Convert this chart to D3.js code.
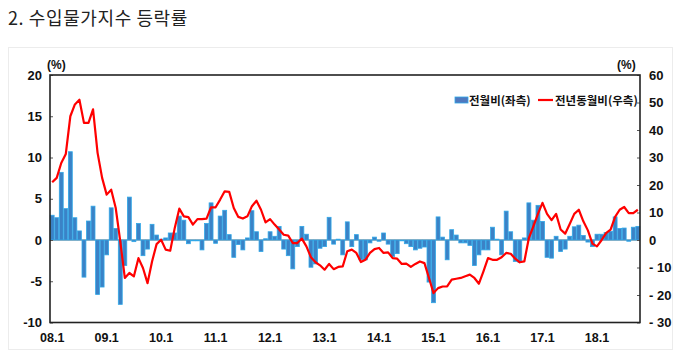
<!DOCTYPE html>
<html><head><meta charset="utf-8">
<script src="https://cdn.jsdelivr.net/npm/d3@7"></script>
<style>
html,body{margin:0;padding:0;background:#fff;}
svg{display:block;}
</style>
</head><body>
<svg id="c" width="679" height="357"></svg>
<script>
const title = "2. 수입물가지수 등락률";
const legendLabels = ["전월비(좌측)", "전년동월비(우측)"];
const xTickLabels = ["08.1","09.1","10.1","11.1","12.1","13.1","14.1","15.1","16.1","17.1","18.1"];
const leftTicks = [-10,-5,0,5,10,15,20];
const rightTicks = [-30,-20,-10,0,10,20,30,40,50,60];
// 전월비 (left axis), monthly 2008.1 - 2018.10
const mom = [
 3.0, 2.7, 8.2, 3.8, 10.7, 2.7, 1.1, -4.5, 2.3, 4.1, -6.6, -5.7,
 -1.8, 3.9, 1.4, -7.8, -3.1, 5.2, -0.2, 2.0, -1.9, -1.1, 1.9, 0.6,
 0.1, 0.25, 0.85, 0.85, 2.9, 2.4, -0.45, -0.1, -0.1, -1.2, 2.0, 4.5,
 -0.4, 2.9, 3.6, 0.65, -2.1, -0.55, -1.2, 0.25, 3.55, 1.0, -1.4, 0.15,
 1.0, 0.45, 1.65, -1.1, -1.9, -3.5, -0.8, 1.65, 0.7, -3.3, -2.9, -1.0,
 -0.8, 2.75, -0.5, 0.1, -1.8, 2.2, -0.8, 0.65, -2.4, -2.4, -0.35, 0.35,
 -0.15, 0.85, -0.5, -2.0, -1.65, -0.1, -0.45, -0.8, -1.2, -1.0, -0.85, -5.1,
 -7.6, 2.8, 0.35, -2.4, 1.25, 0.6, -0.35, -0.35, -0.65, -3.1, -1.8, -1.2,
 -1.2, 1.55, 0.1, -1.8, 3.5, 1.0, -2.6, -2.7, 0.25, 4.5, 2.4, 4.2,
 2.25, -2.1, -2.2, 0.45, -1.4, -1.1, 0.45, 1.6, 1.8, 0.55, -0.25, -0.8,
 0.7, 0.7, 0.9, 1.05, 2.8, 1.4, 1.45, -0.15, 1.55, 1.65
];
// 전년동월비 (right axis)
const yoy = [
 21.0, 22.6, 28.0, 31.3, 45.0, 49.3, 51.0, 42.6, 42.6, 47.5, 31.7, 22.6,
 16.5, 18.3, 11.6, -0.5, -13.8, -12.0, -13.2, -6.6, -10.2, -15.7, -7.8, -1.5,
 0.1, -3.5, -3.9, 4.4, 11.4, 8.6, 8.3, 5.6, 7.6, 7.6, 7.8, 11.9,
 11.9, 14.7, 17.7, 17.5, 11.65, 8.4, 7.8, 8.6, 12.3, 14.3, 11.0, 6.4,
 7.6, 5.6, 3.8, 1.9, 1.6, -1.1, -1.1, 0.5, -2.3, -6.3, -8.1, -9.2,
 -10.8, -8.7, -10.6, -9.8, -9.6, -4.1, -3.5, -4.7, -8.0, -7.2, -4.7, -3.3,
 -2.9, -4.7, -4.5, -6.6, -6.8, -8.7, -8.6, -9.8, -8.7, -7.8, -8.4, -13.8,
 -19.3, -17.5, -16.9, -16.9, -14.4, -14.1, -13.8, -13.2, -12.6, -13.8, -15.9, -11.4,
 -6.6, -7.2, -7.2, -6.3, -4.7, -5.0, -6.8, -8.1, -7.8, 0.7, 5.0, 9.5,
 13.5, 9.5, 7.2, 9.5, 3.8, 2.3, 5.8, 9.5, 11.0, 6.8, 3.5, -1.3,
 -2.3, -0.1, 2.5, 3.8, 8.4, 11.0, 12.0, 9.8, 9.8, 11.0
];

const months = mom.map((_, i) => i);
const svg = d3.select("#c");
const L = 50, R = 640, T = 75, B = 322.5;

const x = d3.scaleBand().domain(months).range([L, R]).paddingInner(0.14).paddingOuter(0.05);
const yL = d3.scaleLinear().domain([-10, 20]).range([B, T]);
const yR = d3.scaleLinear().domain([-30, 60]).range([B, T]);

const numFont = "'Liberation Sans Narrow','Liberation Sans',Arial,sans-serif";
const krFont = "'Noto Sans CJK KR','Noto Sans',sans-serif";

// faint outer box
svg.append("rect").attr("x", 8.5).attr("y", 47.5).attr("width", 664).attr("height", 302)
  .attr("fill", "none").attr("stroke", "#ececec").attr("stroke-width", 1);

// title
svg.append("text").attr("x", 8).attr("y", 25).text(title)
  .attr("font-family", krFont).attr("font-size", 18).attr("letter-spacing", 0.6).attr("fill", "#222");

// zero line
svg.append("line").attr("x1", L).attr("x2", R).attr("y1", yL(0)).attr("y2", yL(0))
  .attr("stroke", "#a0a0a0").attr("stroke-width", 1.5);

// bars
svg.append("g").selectAll("rect").data(months).join("rect")
  .attr("x", d => x(d))
  .attr("width", x.bandwidth())
  .attr("y", d => Math.min(yL(mom[d]), yL(0)))
  .attr("height", d => Math.abs(yL(mom[d]) - yL(0)))
  .attr("fill", "#3b82c6").attr("stroke", "#30a8e8").attr("stroke-width", 0.8);

// line
const line = d3.line().x(d => x(d) + x.bandwidth() / 2).y(d => yR(yoy[d]));
svg.append("path").datum(months).attr("d", line)
  .attr("fill", "none").attr("stroke", "#ff0000").attr("stroke-width", 2.2).attr("stroke-linejoin", "round");

// left axis
const gl = svg.append("g").attr("transform", `translate(${L},0)`)
  .call(d3.axisLeft(yL).tickValues(leftTicks).tickSize(-3).tickPadding(8).tickFormat(d => d < 0 ? "-" + Math.abs(d) : d));
gl.select(".domain").remove();
gl.selectAll("text").attr("font-family", numFont).attr("font-size", 13).attr("font-weight", "bold").attr("fill", "#111");
gl.selectAll("line").attr("stroke", "#555");

// right axis
const gr = svg.append("g").attr("transform", `translate(${R},0)`)
  .call(d3.axisRight(yR).tickValues(rightTicks).tickSize(-3).tickPadding(9).tickFormat(d => d < 0 ? "- " + Math.abs(d) : d));
gr.select(".domain").remove();
gr.selectAll("text").attr("font-family", numFont).attr("font-size", 13).attr("font-weight", "bold").attr("fill", "#111");
gr.selectAll("line").attr("stroke", "#555");

// x axis labels
const xTickMonths = xTickLabels.map((_, i) => i * 12);
const gx = svg.append("g").attr("transform", `translate(0,${B})`)
  .call(d3.axisBottom(x).tickValues(xTickMonths).tickSize(0).tickPadding(11)
    .tickFormat((d, i) => xTickLabels[i]));
gx.select(".domain").remove();
gx.selectAll("text").attr("font-family", numFont).attr("font-size", 12.5).attr("font-weight", "bold").attr("fill", "#111");

// frame
svg.append("rect").attr("x", L).attr("y", T).attr("width", R - L).attr("height", B - T)
  .attr("fill", "none").attr("stroke", "#222").attr("stroke-width", 1.6);

// (%) units
svg.append("text").attr("x", 47).attr("y", 69).text("(%)")
  .attr("font-family", numFont).attr("font-size", 12).attr("font-weight", "bold").attr("fill", "#111");
svg.append("text").attr("x", 617).attr("y", 69).text("(%)")
  .attr("font-family", numFont).attr("font-size", 12).attr("font-weight", "bold").attr("fill", "#111");

// legend
const lg = svg.append("g");
lg.append("rect").attr("x", 455).attr("y", 97).attr("width", 13).attr("height", 6)
  .attr("fill", "#4f78be").attr("stroke", "#30a8e8").attr("stroke-width", 0.8);
lg.append("text").attr("x", 469).attr("y", 104.5).text(legendLabels[0])
  .attr("font-family", krFont).attr("font-size", 11.5).attr("font-weight", "bold").attr("fill", "#111");
lg.append("line").attr("x1", 538).attr("x2", 553).attr("y1", 100).attr("y2", 100)
  .attr("stroke", "#ff0000").attr("stroke-width", 2.2);
lg.append("text").attr("x", 555).attr("y", 104.5).text(legendLabels[1])
  .attr("font-family", krFont).attr("font-size", 11.5).attr("font-weight", "bold").attr("fill", "#111");
</script>
</body></html>
